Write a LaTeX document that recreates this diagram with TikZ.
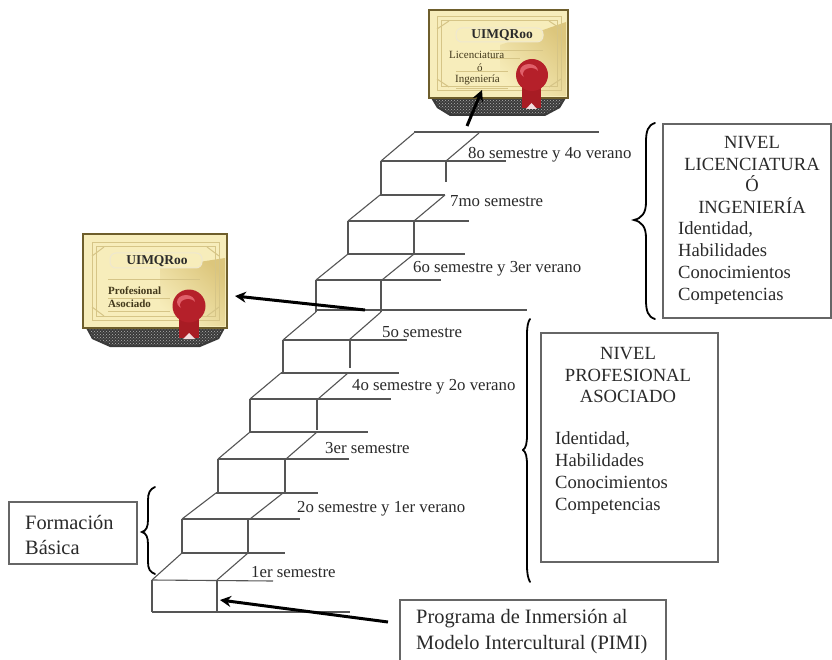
\documentclass[tikz,border=0pt]{standalone}
\usepackage{fontspec}
\setmainfont{Liberation Serif}
\usetikzlibrary{arrows.meta,patterns}
\definecolor{inkc}{HTML}{2A2A2A}
\definecolor{stairc}{HTML}{555555}
\definecolor{framec}{HTML}{666666}
\definecolor{parch}{HTML}{F7EDBB}
\definecolor{goldc}{HTML}{DCC67C}
\definecolor{edgec}{HTML}{6E5E2C}
\definecolor{trimc}{HTML}{D6C587}
\definecolor{sealc}{HTML}{B5202A}
\definecolor{sealhi}{HTML}{E0606A}
\definecolor{ribbonc}{HTML}{A81C24}
\definecolor{shadowc}{HTML}{3A3A3A}
\tikzset{
  stair/.style={draw=stairc,line width=1.1pt},
  framebox/.style={draw=framec,line width=1.2pt,inner sep=0pt},
  bigarrow/.style={draw=black,line width=3pt,-{Stealth[length=11pt,width=11pt]}},
  bracepath/.style={draw=black,line width=1.8pt,line cap=round},
  steplabel/.style={font=\fontsize{16.8}{20}\selectfont,text=inkc,inner sep=0pt,anchor=west},
  boxhead/.style={font=\fontsize{18.6}{21.8}\selectfont,text=inkc,inner sep=0pt,align=center},
  boxlist/.style={font=\fontsize{18.6}{21.8}\selectfont,text=inkc,inner sep=0pt,align=left,anchor=west},
  bigtext/.style={font=\fontsize{20.4}{25}\selectfont,text=inkc,inner sep=0pt,align=left,anchor=west},
  certbody/.style={draw=edgec,line width=1.4pt,fill=parch,inner sep=0pt},
  certtrim/.style={draw=trimc,line width=1pt},
  certtitle/.style={font=\bfseries\fontsize{13.5}{15}\selectfont,text=inkc,inner sep=0pt},
  certsmall/.style={font=\fontsize{11}{13}\selectfont,text=edgec!60!black,inner sep=0pt,anchor=west},
}
\begin{document}
\begin{tikzpicture}[x=1pt,y=-1pt]
\useasboundingbox (0,0) rectangle (832,660);
\fill[white] (0,0) rectangle (832,660);

% ---------- stairs ----------
\draw[stair] (152,612) -- (350,612);
\draw[stair] (152,580) -- (273,581);
\draw[stair] (152,580) -- (152,612) (217,580) -- (217,612);
\draw[stair] (152,580) -- (182,553) (217,580) -- (248,553);
\draw[stair] (182,553) -- (285,553);
\draw[stair] (182,519) -- (182,553) (248,519) -- (248,553);
\draw[stair] (182,519) -- (300,519);
\draw[stair] (182,519) -- (216,493) (250,519) -- (283,493);
\draw[stair] (216,493) -- (318,493);
\draw[stair] (218,459) -- (218,493) (285,459) -- (285,493);
\draw[stair] (218,459) -- (349,459);
\draw[stair] (218,459) -- (250,432) (286,459) -- (317,432);
\draw[stair] (250,432) -- (368,432);
\draw[stair] (250,399) -- (250,432) (317,399) -- (317,430);
\draw[stair] (250,399) -- (391,399);
\draw[stair] (250,399) -- (281,373) (318,399) -- (348,373);
\draw[stair] (281,373) -- (399,373);
\draw[stair] (283,340) -- (283,373) (350,340) -- (350,368);
\draw[stair] (283,340) -- (407,340);
\draw[stair] (283,340) -- (316,312) (349,340) -- (381,312);
\draw[stair] (316,310) -- (527,310);
\draw[stair] (316,280) -- (316,312) (381,280) -- (381,312);
\draw[stair] (316,280) -- (441,280);
\draw[stair] (316,280) -- (348,254) (382,280) -- (414,254);
\draw[stair] (348,254) -- (465,254);
\draw[stair] (348,221) -- (348,254) (414,221) -- (414,254);
\draw[stair] (348,221) -- (469,221);
\draw[stair] (348,221) -- (380,195) (414,221) -- (445,195);
\draw[stair] (380,195) -- (445,195);
\draw[stair] (381,161) -- (381,195) (446,161) -- (446,182);
\draw[stair] (381,161) -- (506,161);
\draw[stair] (381,161) -- (414,133) (446,161) -- (479,133);
\draw[stair] (414,132) -- (599,132);

% ---------- step labels ----------
\node[steplabel] (s8) at (468,155) {8o semestre y 4o verano};
\node[steplabel] (s7) at (450,201) {7mo semestre};
\node[steplabel] (s6) at (413,269) {6o semestre y 3er verano};
\node[steplabel] (s5) at (382,332) {5o semestre};
\node[steplabel] (s4) at (352,387) {4o semestre y 2o verano};
\node[steplabel] (s3) at (325,448) {3er semestre};
\node[steplabel] (s2) at (297,509) {2o semestre y 1er verano};
\node[steplabel] (s1) at (251,572) {1er semestre};

% ---------- boxes ----------
\node[framebox,minimum width=168pt,minimum height=194pt] (boxlic) at (747,221) {};
\node[boxhead] (lichead) at (752,175) {NIVEL\\LICENCIATURA\\Ó\\INGENIERÍA};
\node[boxlist] (liclist) at (678,263) {Identidad,\\Habilidades\\Conocimientos\\Competencias};

\node[framebox,minimum width=177pt,minimum height=229pt] (boxpro) at (629.5,447.5) {};
\node[boxhead] (prohead) at (628,375) {NIVEL\\PROFESIONAL\\ASOCIADO};
\node[boxlist] (prolist) at (555,473) {Identidad,\\Habilidades\\Conocimientos\\Competencias};

\node[framebox,minimum width=128pt,minimum height=62pt] (boxfb) at (73,533) {};
\node[bigtext] (fbtext) at (25,535) {Formación\\Básica};

\draw[draw=framec,line width=1.2pt] (400,660) |- (666,600) -- (666,660);
\node[bigtext,font=\fontsize{20.4}{26}\selectfont] (pimitext) at (416,632) {Programa de Inmersión al\\Modelo Intercultural (PIMI)};

% ---------- braces ----------
\draw[bracepath] (655,123) .. controls (648,125) and (646,131) .. (646,142)
  -- (646,202) .. controls (646,213) and (642,218) .. (634,220)
  .. controls (642,222) and (646,227) .. (646,238)
  -- (646,300) .. controls (646,311) and (648,317) .. (655,319);
\draw[bracepath] (530,319) .. controls (528,322) and (527,326) .. (527,335)
  -- (527,435) .. controls (527,443) and (526,448) .. (523,450)
  .. controls (526,452) and (527,457) .. (527,465)
  -- (527,565) .. controls (527,574) and (528,578) .. (530,582);
\draw[bracepath] (155,487) .. controls (150,489) and (148,493) .. (148,500)
  -- (148,520) .. controls (148,527) and (146,531) .. (142,532)
  .. controls (146,533) and (148,537) .. (148,544)
  -- (148,562) .. controls (148,569) and (150,572) .. (155,574);

% ---------- upper certificate ----------
\fill[shadowc] (431,98) -- (566,98) -- (560,108) -- (545,116) -- (450,116) -- (437,108) -- cycle;
\fill[pattern=crosshatch dots,pattern color=white!70!black] (434,99) -- (563,99) -- (558,107) -- (544,114) -- (452,114) -- (439,107) -- cycle;
\node[certbody,minimum width=139pt,minimum height=88pt] (certa) at (498.5,54) {};
\shade[shading=axis,top color=goldc,bottom color=parch,shading angle=-45] (500,45) -- (566,22) -- (566,96) -- (500,96) -- cycle;
\draw[certtrim] (437,17) rectangle (561,91);
\draw[certtrim] (441,21) rectangle (557,87);
\draw[certtrim] (437,29) -- (449,21) (561,29) -- (549,21) (437,79) -- (449,87) (561,79) -- (549,87);
\draw[draw=white!60!trimc,fill=parch,line width=1pt,rounded corners=6pt] (456,28) rectangle (543,42);
\node[certtitle] (certatitle) at (502,35) {UIMQRoo};
\node[certsmall] (certa1) at (449,55) {Licenciatura};
\node[certsmall] (certa2) at (477,68) {ó};
\node[certsmall] (certa3) at (455,80) {Ingeniería};
\draw[draw=trimc,line width=.8pt] (490,50) -- (543,50) (490,58) -- (520,58) (456,71) -- (508,71) (456,88) -- (508,88);
\fill[ribbonc] (522,78) rectangle (541,108) ;
\fill[white!85!ribbonc] (526,109) -- (531.5,103) -- (537,109) -- cycle;
\fill[sealc] (532,75) circle (16);
\fill[sealhi] (529,71) ellipse (9 and 7);
\fill[sealc] (531,74) ellipse (8 and 6);

% ---------- lower certificate ----------
\fill[shadowc] (86,328) -- (225,328) -- (219,339) -- (200,347) -- (110,347) -- (92,339) -- cycle;
\fill[pattern=crosshatch dots,pattern color=white!70!black] (88,329) -- (223,329) -- (217,338) -- (198,345) -- (112,345) -- (94,338) -- cycle;
\node[certbody,minimum width=144pt,minimum height=94pt] (certb) at (155,281) {};
\shade[shading=axis,top color=goldc,bottom color=parch,shading angle=-45] (160,268) -- (225,258) -- (225,326) -- (160,326) -- cycle;
\draw[certtrim] (92,243) rectangle (219,320);
\draw[certtrim] (96,247) rectangle (215,316);
\draw[certtrim] (92,256) -- (104,247) (219,256) -- (207,247) (92,307) -- (104,316) (219,307) -- (207,316);
\draw[draw=white!60!trimc,fill=parch,line width=1pt,rounded corners=6pt] (110,253) rectangle (202,268);
\node[certtitle] (certbtitle) at (157,261) {UIMQRoo};
\node[certsmall,font=\bfseries\fontsize{11}{13}\selectfont] (certb1) at (108,291) {Profesional};
\node[certsmall,font=\bfseries\fontsize{11}{13}\selectfont] (certb2) at (108,304) {Asociado};
\draw[draw=trimc,line width=.8pt] (108,279) -- (200,279) (108,298) -- (170,298) (108,311) -- (170,311);
\fill[ribbonc] (179,308) rectangle (199,338);
\fill[white!85!ribbonc] (183,339) -- (189,333) -- (195,339) -- cycle;
\fill[sealc] (189,306) circle (16.5);
\fill[sealhi] (186,302) ellipse (9 and 7);
\fill[sealc] (188,305) ellipse (8 and 6);

% ---------- arrows ----------
\coordinate (a1t) at (467,126);
\coordinate (a1h) at (482,90);
\coordinate (a2t) at (365,310);
\coordinate (a2h) at (235,296);
\coordinate (a3t) at (388,622);
\coordinate (a3h) at (220,600);
\draw[bigarrow] (a1t) -- (a1h);
\draw[bigarrow] (a2t) -- (a2h);
\draw[bigarrow] (a3t) -- (a3h);
\end{tikzpicture}
\end{document}
